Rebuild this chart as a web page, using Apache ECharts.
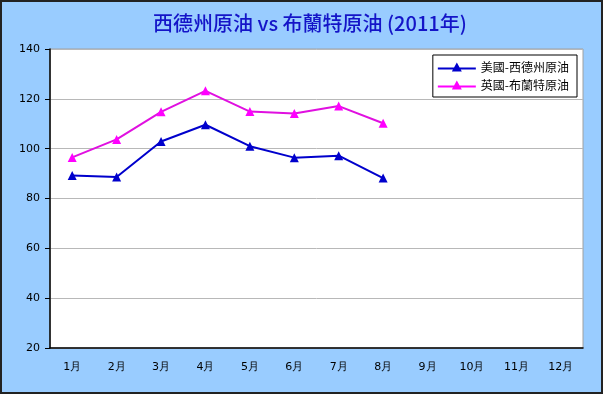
<!DOCTYPE html>
<html><head><meta charset="utf-8">
<script src="https://cdn.jsdelivr.net/npm/echarts@6/dist/echarts.min.js"></script>
<style>html,body{margin:0;padding:0;}#c{width:603px;height:394px;}</style>
</head><body><div id="c"></div>
<script>
const titleText = '西德州原油 vs 布蘭特原油 (2011年)';
const months = ['1月','2月','3月','4月','5月','6月','7月','8月','9月','10月','11月','12月'];
const wtiName = '美國-西德州原油';
const brentName = '英國-布蘭特原油';
const wti = [89.2, 88.6, 102.9, 109.6, 101.0, 96.4, 97.2, 88.2];
const brent = [96.5, 103.7, 114.8, 123.2, 114.9, 114.1, 117.1, 110.2];

const chart = echarts.init(document.getElementById('c'));
const lab = {fontFamily:'DejaVu Sans, Verdana, sans-serif', fontSize:11, color:'#000'};
const legIcon = 'path://M0,8 L38,8 L38,10 L0,10 Z M19,3 L24,12 L14,12 Z';
chart.setOption({
  backgroundColor:'#99CCFF',
  animation:false,
  title:{text:titleText,left:148,top:8,textStyle:{fontFamily:'Noto Sans CJK TC',fontSize:20,fontWeight:500,color:'#1414C8'}},
  graphic:[{type:'rect',shape:{x:1,y:1,width:601,height:392},style:{fill:'none',stroke:'#222',lineWidth:2},silent:true}],
  legend:{orient:'vertical',right:26,top:55,backgroundColor:'#fff',borderColor:'#000',borderWidth:1,padding:[6,8,6,5],itemGap:6,itemWidth:38,itemHeight:12,
    textStyle:{fontFamily:'Noto Sans CJK TC',fontSize:12,color:'#000'},
    data:[{name:wtiName,icon:legIcon},{name:brentName,icon:legIcon}]},
  grid:{left:50,right:20,top:49,bottom:46,show:true,backgroundColor:'#fff',borderColor:'#a0a0a0',borderWidth:1},
  xAxis:{type:'category',data:months,boundaryGap:true,
    axisLine:{lineStyle:{color:'#000',width:1.5}},
    axisTick:{inside:true,length:4,lineStyle:{color:'#000'}},
    axisLabel:Object.assign({margin:14},lab)},
  yAxis:{type:'value',min:20,max:140,interval:20,
    axisLine:{show:true,lineStyle:{color:'#000',width:1.5}},
    axisTick:{show:true,length:5,lineStyle:{color:'#000'}},
    axisLabel:Object.assign({margin:10},lab),
    splitLine:{lineStyle:{color:'#b8b8b8',width:1}}},
  series:[
    {name:wtiName,type:'line',data:wti,symbol:'triangle',symbolSize:9,color:'#0000CC',lineStyle:{width:2,color:'#0000CC'},itemStyle:{color:'#0000CC'}},
    {name:brentName,type:'line',data:brent,symbol:'triangle',symbolSize:9,color:'#FF00FF',lineStyle:{width:2,color:'#E010E0'},itemStyle:{color:'#FF00FF'}}
  ]
});
</script></body></html>
